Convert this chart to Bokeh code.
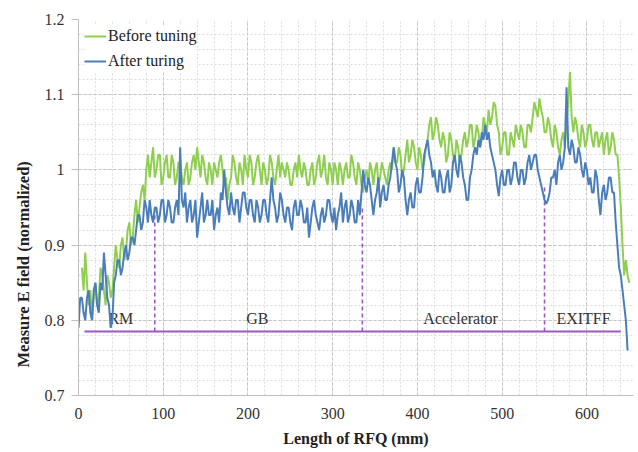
from bokeh.plotting import figure
from bokeh.models import FixedTicker, CustomJSTickFormatter, Title
from bokeh.core.properties import value
from bokeh.embed import file_html
from bokeh.resources import INLINE

# ---------------- data (2 mm sampling) ----------------
before_start = 4   # mm, first sample of "Before tuning"
before_tuning = [
    0.87, 0.84, 0.89, 0.85, 0.82, 0.84, 0.80, 0.83, 0.85, 0.82, 0.83, 0.87, 0.86, 0.84, 0.82, 0.86, 0.85, 0.83, 0.84, 0.87,  # 4-42
    0.90, 0.88, 0.87, 0.90, 0.91, 0.88, 0.89, 0.92, 0.93, 0.90, 0.91, 0.94, 0.96, 0.93, 0.95, 0.97, 0.98, 0.96, 1.00, 1.02,  # 44-82
    0.99, 1.01, 1.03, 0.99, 1.00, 1.02, 1.02, 0.98, 0.99, 1.01, 1.02, 0.99, 0.99, 1.02, 1.01, 0.98, 0.99, 1.01, 1.01, 0.99,  # 84-122
    0.98, 1.00, 1.01, 0.98, 0.99, 1.01, 1.02, 1.00, 1.03, 1.01, 0.99, 1.02, 1.01, 0.99, 0.98, 1.01, 1.00, 0.98, 1.01, 1.00,  # 124-162
    0.99, 1.01, 1.02, 1.00, 0.98, 0.99, 0.96, 0.98, 0.99, 1.02, 1.01, 0.99, 0.98, 1.01, 1.00, 0.98, 1.02, 1.00, 0.99, 1.02,  # 164-202
    1.01, 0.98, 0.99, 1.01, 1.02, 1.00, 0.98, 1.01, 1.00, 0.98, 0.99, 1.02, 1.01, 0.99, 0.98, 1.00, 1.02, 0.99, 1.01, 1.00,  # 204-242
    0.99, 1.01, 1.00, 0.98, 0.98, 1.00, 1.01, 0.99, 1.02, 1.00, 0.99, 1.01, 1.00, 0.98, 0.98, 1.00, 1.01, 0.98, 0.99, 1.01,  # 244-282
    1.02, 0.99, 1.00, 1.02, 0.99, 0.98, 1.01, 1.00, 0.98, 1.01, 1.00, 0.98, 1.01, 1.00, 0.98, 1.00, 1.01, 0.99, 0.99, 1.02,  # 284-322
    1.01, 0.99, 0.98, 1.01, 1.00, 0.98, 0.97, 0.99, 1.00, 0.98, 1.01, 1.00, 0.98, 1.00, 1.01, 0.98, 0.99, 1.01, 1.00, 0.99,  # 324-362
    0.98, 1.00, 1.01, 1.00, 1.03, 1.01, 1.01, 1.03, 1.02, 0.99, 1.00, 1.02, 1.04, 1.01, 1.02, 1.04, 1.03, 1.01, 1.00, 1.03,  # 364-402
    1.02, 1.00, 1.01, 1.03, 1.04, 1.06, 1.07, 1.04, 1.05, 1.07, 1.06, 1.04, 1.03, 1.05, 1.04, 1.01, 1.02, 1.05, 1.04, 1.02,  # 404-442
    1.01, 1.04, 1.03, 1.01, 1.02, 1.04, 1.05, 1.03, 1.04, 1.06, 1.06, 1.03, 1.04, 1.06, 1.05, 1.03, 1.04, 1.07, 1.06, 1.05,  # 444-482
    1.08, 1.06, 1.07, 1.09, 1.085, 1.06, 1.05, 1.02, 1.03, 1.05, 1.05, 1.02, 1.02, 1.05, 1.04, 1.03, 1.06, 1.05, 1.04, 1.06,  # 484-522
    1.05, 1.03, 1.03, 1.06, 1.06, 1.05, 1.07, 1.09, 1.08, 1.07, 1.095, 1.08, 1.07, 1.05, 1.05, 1.07, 1.06, 1.04, 1.03, 1.06,  # 524-562
    1.05, 1.03, 1.02, 1.04, 1.05, 1.03, 1.06, 1.09, 1.13, 1.07, 1.05, 1.07, 1.06, 1.04, 1.03, 1.06, 1.05, 1.03, 1.04, 1.06,  # 564-602
    1.06, 1.04, 1.03, 1.05, 1.05, 1.03, 1.04, 1.05, 1.02, 1.04, 1.05, 1.02, 1.03, 1.05, 1.04, 1.02, 1.02, 0.99, 0.95, 0.90,  # 604-642
    0.86, 0.88, 0.86, 0.85,                                                                                                  # 644-650
]

after_start = 0    # mm, first sample of "After turing"
after_tuning = [
    0.79, 0.83,                                                                                                              # 0-2
    0.83, 0.81, 0.80, 0.83, 0.84, 0.81, 0.80, 0.84, 0.85, 0.82, 0.81, 0.85, 0.84, 0.89, 0.86, 0.83, 0.82, 0.79, 0.80, 0.85,  # 4-42
    0.86, 0.88, 0.88, 0.86, 0.87, 0.89, 0.90, 0.88, 0.89, 0.91, 0.91, 0.90, 0.92, 0.94, 0.94, 0.92, 0.93, 0.96, 0.95, 0.93,  # 44-82
    0.96, 0.94, 0.93, 0.95, 0.95, 0.93, 0.94, 0.96, 0.96, 0.93, 0.94, 0.96, 0.95, 0.93, 0.93, 0.95, 0.96, 0.94, 1.03, 0.96,  # 84-122
    0.95, 0.97, 0.93, 0.95, 0.96, 0.93, 0.94, 0.96, 0.91, 0.93, 0.95, 0.97, 0.93, 0.94, 0.96, 0.94, 0.94, 0.96, 0.92, 0.94,  # 124-162
    0.95, 0.93, 0.97, 0.96, 1.00, 0.97, 0.95, 0.94, 0.97, 0.95, 0.94, 0.96, 0.96, 0.93, 0.95, 0.97, 0.97, 0.95, 0.94, 0.96,  # 164-202
    0.96, 0.94, 0.93, 0.96, 0.95, 0.93, 0.94, 0.96, 0.96, 0.94, 0.93, 0.96, 0.99, 0.96, 0.95, 0.93, 0.94, 0.97, 0.96, 0.94,  # 204-242
    0.93, 0.95, 0.95, 0.93, 0.92, 0.95, 0.96, 0.94, 0.94, 0.96, 0.95, 0.93, 0.93, 0.95, 0.91, 0.93, 0.95, 0.96, 0.94, 0.93,  # 244-282
    0.92, 0.94, 0.95, 0.93, 0.94, 0.96, 0.96, 0.94, 0.93, 0.95, 0.92, 0.94, 0.95, 0.97, 0.93, 0.95, 0.96, 0.93, 0.94, 0.96,  # 284-322
    0.95, 0.93, 0.93, 0.96, 0.94, 0.97, 1.00, 0.98, 0.97, 0.99, 0.98, 0.96, 0.94, 0.96, 0.97, 0.99, 0.95, 0.97, 0.98, 0.96,  # 324-362
    0.96, 0.98, 0.99, 1.01, 1.03, 1.01, 1.00, 0.97, 0.98, 1.00, 0.99, 0.96, 0.94, 0.96, 0.97, 0.95, 0.95, 0.98, 0.99, 0.97,  # 364-402
    0.97, 0.99, 1.02, 1.03, 1.04, 1.02, 1.01, 0.99, 1.00, 0.98, 0.97, 1.00, 0.99, 0.97, 0.97, 0.99, 1.00, 0.97, 0.98, 1.01,  # 404-442
    1.02, 1.00, 0.99, 1.02, 1.01, 0.99, 0.98, 0.96, 0.96, 0.99, 1.00, 1.02, 1.03, 1.02, 1.04, 1.03, 1.05, 1.04, 1.06, 1.04,  # 444-482
    1.05, 1.03, 1.02, 1.01, 1.00, 0.98, 0.965, 0.99, 1.00, 0.98, 0.98, 1.00, 1.00, 0.98, 0.99, 1.01, 1.01, 0.99, 0.98, 1.00, # 484-522
    1.00, 0.98, 0.99, 1.01, 1.02, 1.00, 1.01, 1.02, 1.02, 1.00, 0.99, 0.98, 0.97, 0.96, 0.955, 0.96, 0.97, 0.99, 0.99, 1.00, # 524-562
    0.98, 1.01, 1.02, 1.00, 1.01, 1.03, 1.11, 1.03, 1.02, 1.04, 1.03, 1.01, 1.01, 1.03, 1.02, 1.00, 0.99, 1.01, 1.00, 0.98,  # 564-602
    0.99, 0.97, 0.97, 1.00, 0.99, 0.96, 0.94, 0.97, 0.98, 0.96, 0.97, 0.99, 0.99, 0.97, 0.97, 0.93, 0.90, 0.87, 0.86, 0.84,  # 604-642
    0.82, 0.80, 0.76,                                                                                                        # 644-648
]

section_bounds = [90, 335, 550]
section_tops = [0.95, 0.95, 0.98]
section_labels = ["RM", "GB", "Accelerator", "EXITFF"]
section_label_x = [50, 211, 451, 596]
section_label_y = [0.803, 0.803, 0.803, 0.803]
baseline_x = [7, 640]
baseline_y = [0.785, 0.785]

x_ticks = [0, 100, 200, 300, 400, 500, 600]
x_minor = list(range(0, 660, 20))
y_ticks = [0.7, 0.8, 0.9, 1.0, 1.1, 1.2]
y_minor = [round(0.7 + 0.02 * i, 2) for i in range(26)]

# sample positions (2 mm spacing)
x_before = [before_start + 2 * i for i in range(len(before_tuning))]
x_after = [after_start + 2 * i for i in range(len(after_tuning))]

GREEN = "#8fcf4f"
BLUE = "#4a7ebb"
PURPLE = "#9b59c6"
SERIF = "Liberation Serif"

p = figure(width=638, height=452, x_range=(0, 655), y_range=(0.7, 1.2),
           output_backend="svg", toolbar_location=None,
           min_border_left=78, min_border_right=5, min_border_top=19,
           min_border_bottom=57)
p.outline_line_color = None
p.background_fill_color = "white"

for ax in (p.xaxis[0], p.yaxis[0]):
    ax.axis_line_color = "#bfbfbf"
    ax.minor_tick_line_color = None
    ax.major_label_text_font = SERIF
    ax.major_label_text_font_size = "16px"
    ax.major_label_text_color = "#333333"
    ax.axis_label_text_font = SERIF
    ax.axis_label_text_font_style = "bold"
    ax.axis_label_text_font_size = "16px"
    ax.axis_label_text_color = "#222222"

p.xaxis.major_tick_line_color = None
p.yaxis.major_tick_line_color = "#bfbfbf"
p.yaxis.major_tick_in = 0
p.yaxis.major_tick_out = 7

p.xaxis.ticker = FixedTicker(ticks=x_ticks, minor_ticks=x_minor)
p.yaxis.ticker = FixedTicker(ticks=y_ticks, minor_ticks=y_minor)
p.yaxis.formatter = CustomJSTickFormatter(code="return (Math.round(tick*10)/10).toString();")
p.xaxis.axis_label = "Length of RFQ (mm)"
p.xaxis.major_label_standoff = 6
p.yaxis.major_label_standoff = 7
p.xaxis.axis_label_standoff = 8

# y-axis title, anchored near the bottom as in the original
ytitle = Title(text="Measure E field (normalized)", align="left", offset=28,
               text_font=SERIF, text_font_style="bold", text_font_size="16.5px",
               text_color="#222222", standoff=17)
p.add_layout(ytitle, "left")

for g in (p.xgrid[0], p.ygrid[0]):
    g.grid_line_color = "#c4c4c4"
    g.grid_line_dash = "3 2"
    g.grid_line_width = 1
    g.minor_grid_line_color = "#dcdcdc"
    g.minor_grid_line_dash = "2 2"
    g.minor_grid_line_width = 1

p.text(x=section_label_x, y=section_label_y, text=section_labels,
       text_font=value(SERIF), text_font_size="16px", text_align="center",
       text_baseline="middle", text_color="#333333")
p.line(baseline_x, baseline_y, line_color=PURPLE, line_width=2)
p.segment(x0=section_bounds, y0=[0.785] * 3, x1=section_bounds, y1=section_tops,
          line_color=PURPLE, line_width=1.6, line_dash="4 3")

p.line(x_before, before_tuning, line_color=GREEN, line_width=2, legend_label="Before tuning")
p.line(x_after, after_tuning, line_color=BLUE, line_width=2, legend_label="After turing")

lg = p.legend[0]
lg.location = "top_left"
lg.margin = 6
lg.padding = 6
lg.spacing = 3
lg.glyph_width = 22
lg.glyph_height = 22
lg.label_height = 22
lg.label_standoff = 2
lg.label_text_font = SERIF
lg.label_text_font_size = "16px"
lg.label_text_color = "#222222"
lg.border_line_color = None
lg.background_fill_color = "white"
lg.background_fill_alpha = 1.0

open("out.html", "w").write(file_html(p, INLINE))
